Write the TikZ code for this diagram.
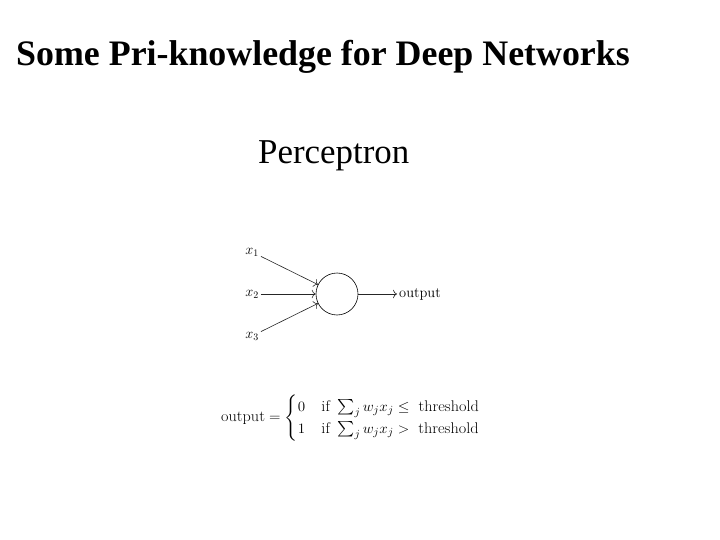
\documentclass[tikz,border=0pt]{standalone}
\usepackage{amsmath,amssymb}
\usepackage{fontspec}
\usepackage{tikz}
\usetikzlibrary{positioning,arrows.meta}
\newfontfamily\slidefont{Liberation Serif}

\begin{document}
\begin{tikzpicture}[x=1bp,y=-1bp,every node/.style={font=\fontsize{14.5}{17}\selectfont}]
  \useasboundingbox[fill=white] (0,0) rectangle (720,540);
  \node[anchor=base west,inner sep=0,font=\slidefont\bfseries\fontsize{36}{40}\selectfont] (title) at (16,66) {Some Pri-knowledge for Deep Networks};
  \node[anchor=base west,inner sep=0,font=\slidefont\fontsize{35}{40}\selectfont] (sub) at (258,164) {Perceptron};
  \node[draw,circle,minimum size=42bp,inner sep=0,line width=0.6pt] (n) at (337,294) {};
  \node[inner sep=2pt] (x1) at (252,252) {$x_1$};
  \node[inner sep=2pt] (x2) at (252,294) {$x_2$};
  \node[inner sep=2pt] (x3) at (252,336) {$x_3$};
  \node[anchor=west,inner sep=2pt] (out) at (397,294) {output};
  \draw[-{To[length=4pt]},line width=0.6pt,black!85] (x1) -- (n);
  \draw[-{To[length=4pt]},line width=0.6pt,black!85] (x2) -- (n);
  \draw[-{To[length=4pt]},line width=0.6pt,black!85] (x3) -- (n);
  \draw[-{To[length=4pt]},line width=0.6pt,black!85] (n) -- (out);
  \node[anchor=west,inner sep=0,font=\fontsize{15.5}{18}\selectfont,transform shape,xscale=1.05] (rule) at (221,418) {$\text{output} = \begin{cases} 0 & \text{if } \sum_j w_j x_j \leq \text{ threshold} \\ 1 & \text{if } \sum_j w_j x_j > \text{ threshold} \end{cases}$};
\end{tikzpicture}
\end{document}
